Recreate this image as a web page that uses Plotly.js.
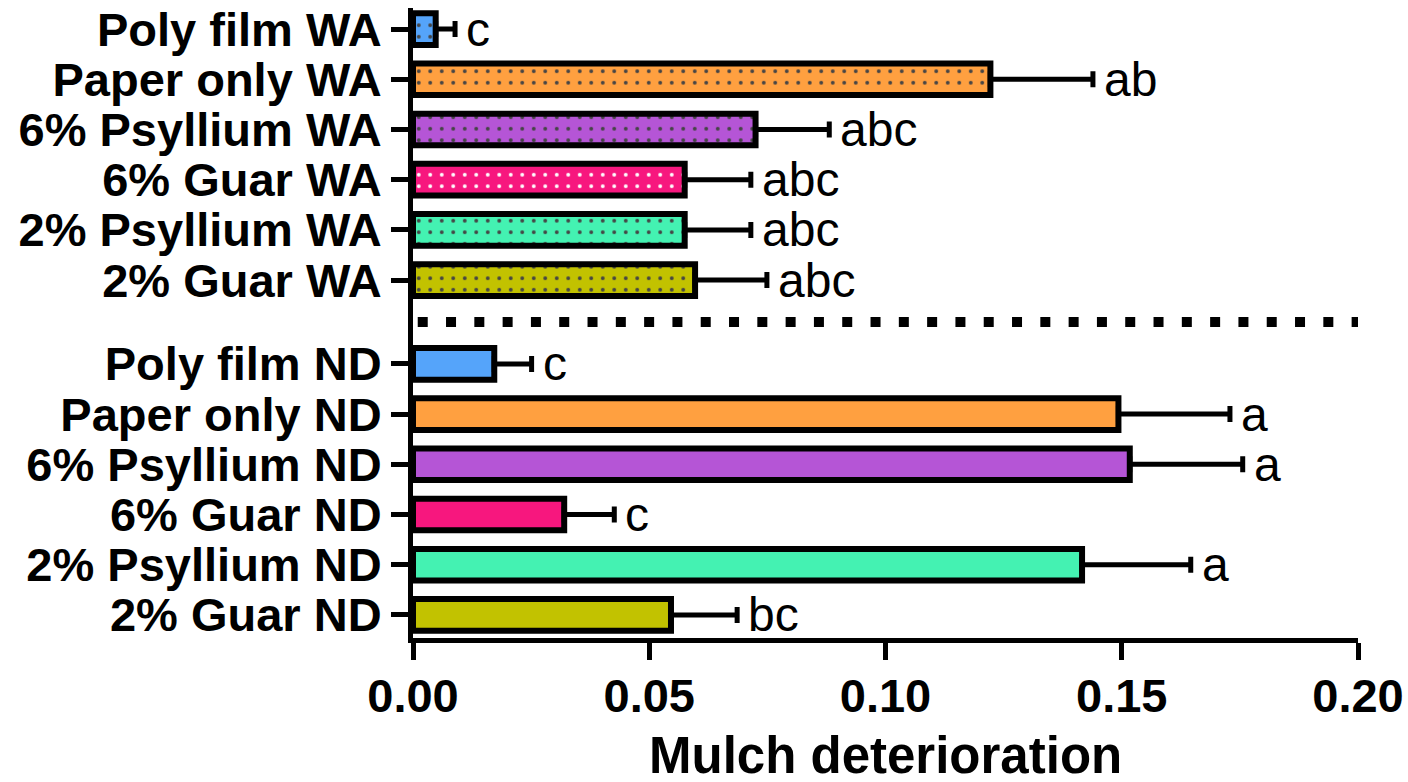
<!DOCTYPE html>
<html>
<head>
<meta charset="utf-8">
<script src="https://cdn.plot.ly/plotly-3.0.1.min.js"></script>
<style>
  html, body { margin: 0; padding: 0; background: #fff; }
  #chart { width: 1408px; height: 782px; }
</style>
</head>
<body>
<div id="chart"></div>
<script>
// Treatments, listed bottom to top within each site
const labelsND = ['2% Guar ND', '2% Psyllium ND', '6% Guar ND', '6% Psyllium ND', 'Paper only ND', 'Poly film ND'];
const labelsWA = ['2% Guar WA', '2% Psyllium WA', '6% Guar WA', '6% Psyllium WA', 'Paper only WA', 'Poly film WA'];

// Mean mulch deterioration and its standard error
const meanND = [0.0546, 0.1416, 0.0320, 0.1517, 0.1493, 0.0172];
const errND  = [0.0140, 0.0230, 0.0106, 0.0239, 0.0236, 0.0079];
const meanWA = [0.0597, 0.0575, 0.0575, 0.0725, 0.1222, 0.0048];
const errWA  = [0.0152, 0.0140, 0.0140, 0.0156, 0.0217, 0.0041];

// Mean separation letters
const lettersND = ['bc', 'a', 'c', 'a', 'a', 'c'];
const lettersWA = ['abc', 'abc', 'abc', 'abc', 'ab', 'c'];

// One colour per treatment (same order as the labels)
const treatmentColors = ['#C2C200', '#44F2B2', '#F7177E', '#B555D6', '#FFA040', '#55A4FA'];

const xTicks = [0, 0.05, 0.10, 0.15, 0.20];
const xTitle = 'Mulch deterioration';

// Row layout: ND rows first, then a gap, then WA rows
const groupGap = 1.67;
const posND = labelsND.map((_, i) => i);
const posWA = labelsWA.map((_, i) => labelsND.length - 1 + groupGap + i);
const separatorY = (posND[posND.length - 1] + posWA[0]) / 2;

const FONT = 'Liberation Sans, Arial, sans-serif';
const barWidth = 0.63;

function barTrace(y, x, err, name, dotted) {
  const t = {
    type: 'bar',
    orientation: 'h',
    name: name,
    x: x,
    y: y,
    width: barWidth,
    marker: {
      color: treatmentColors,
      line: { color: '#000', width: 6 }
    },
    error_x: {
      type: 'data',
      symmetric: false,
      array: err,
      arrayminus: err.map(() => 0),
      color: '#000',
      thickness: 5,
      width: 8
    },
    hoverinfo: 'x+y',
    showlegend: false
  };
  if (dotted) {
    t.marker.pattern = {
      shape: '.',
      fillmode: 'overlay',
      fgcolor: '#000',
      fgopacity: 1,
      size: 11.5,
      solidity: 0.09
    };
  }
  return t;
}

const traces = [
  barTrace(posND, meanND, errND, 'ND', false),
  barTrace(posWA, meanWA, errWA, 'WA', true)
];

function letterNotes(pos, mean, err, letters) {
  return pos.map((p, i) => ({
    x: mean[i] + err[i],
    y: p,
    xref: 'x',
    yref: 'y',
    text: letters[i],
    showarrow: false,
    xanchor: 'left',
    yanchor: 'middle',
    xshift: 9,
    yshift: 0,
    font: { family: FONT, size: 48, color: '#000' }
  }));
}

// x-axis title, placed as paper-anchored text under the tick labels
const titleNote = {
  x: 0.5,
  y: -0.186,
  xref: 'paper',
  yref: 'paper',
  text: '<b>' + xTitle + '</b>',
  showarrow: false,
  xanchor: 'center',
  yanchor: 'middle',
  font: { family: FONT, size: 51, color: '#000' }
};

const layout = {
  width: 1408,
  height: 782,
  margin: { l: 413, r: 50, t: 8, b: 144, pad: 0 },
  paper_bgcolor: '#fff',
  plot_bgcolor: '#fff',
  barmode: 'overlay',
  font: { family: FONT, color: '#000' },
  xaxis: {
    range: [0, 0.2],
    tickvals: xTicks,
    ticktext: xTicks.map(v => '<b>' + v.toFixed(2) + '</b>'),
    ticks: 'outside',
    ticklen: 17,
    tickwidth: 5,
    tickcolor: '#000',
    ticklabelstandoff: -4,
    showline: true,
    linewidth: 5,
    linecolor: '#000',
    showgrid: false,
    zeroline: false,
    tickfont: { family: FONT, size: 47, color: '#000' }
  },
  yaxis: {
    range: [-0.46, 12.09],
    tickvals: posND.concat(posWA),
    ticktext: labelsND.concat(labelsWA).map(s => '<b>' + s + '</b>'),
    ticks: 'outside',
    ticklen: 17,
    tickwidth: 5,
    tickcolor: '#000',
    showline: true,
    linewidth: 5,
    linecolor: '#000',
    showgrid: false,
    zeroline: false,
    tickfont: { family: FONT, size: 47, color: '#000' }
  },
  shapes: [{
    type: 'line',
    xref: 'x',
    yref: 'y',
    x0: 0.001,
    x1: 0.2,
    y0: separatorY,
    y1: separatorY,
    line: { color: '#000', width: 10, dash: '10px,18.3px' }
  }],
  annotations: letterNotes(posND, meanND, errND, lettersND)
    .concat(letterNotes(posWA, meanWA, errWA, lettersWA))
    .concat([titleNote])
};

Plotly.newPlot('chart', traces, layout, { displayModeBar: false, responsive: false });
</script>
</body>
</html>
